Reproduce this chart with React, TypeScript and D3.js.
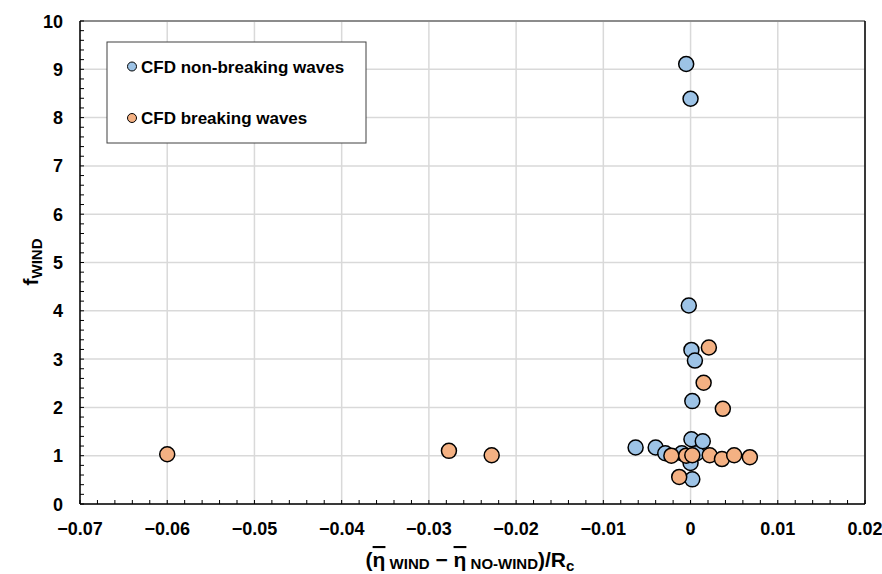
import React from "react";
import * as d3 from "d3";

// Wind factor vs. normalised mean water level change
const nonBreakingX = [-0.0005, 0.0, -0.0002, 0.0001, 0.0005, 0.0002, -0.0063, -0.004, -0.0029, -0.001, 0.0007, 0.0001, 0.0014, 0.0, 0.0002];
const nonBreakingY = [9.11, 8.39, 4.11, 3.19, 2.97, 2.13, 1.17, 1.17, 1.05, 1.05, 1.05, 1.34, 1.3, 0.85, 0.51];

const breakingX = [-0.06, -0.0277, -0.0228, 0.0021, 0.0015, 0.0037, -0.0022, -0.0013, -0.0005, 0.0002, 0.0022, 0.0036, 0.005, 0.0068];
const breakingY = [1.03, 1.1, 1.01, 3.24, 2.51, 1.97, 1.0, 0.56, 1.0, 1.01, 1.01, 0.93, 1.01, 0.97];

const xTicks = [-0.07, -0.06, -0.05, -0.04, -0.03, -0.02, -0.01, 0, 0.01, 0.02];
const yTicks = [0, 1, 2, 3, 4, 5, 6, 7, 8, 9, 10];

const seriesNames = ["CFD non-breaking waves", "CFD breaking waves"];
const colors = ["#9dc3e6", "#f4b183"];

const W = 882;
const H = 574;
const left = 80;
const right = 865;
const top = 21;
const bottom = 504;

const font = "'Liberation Sans', Arial, sans-serif";

const fmt = (v: number) => {
  if (v === 0) return "0";
  const s = Math.abs(v).toFixed(2);
  return v < 0 ? "\u2212" + s : s;
};

export default function App() {
  const x = d3.scaleLinear().domain([-0.07, 0.02]).range([left, right]);
  const y = d3.scaleLinear().domain([0, 10]).range([bottom, top]);

  const xMinor = d3.range(0, 46).map((i) => -0.07 + i * 0.002);
  const yMinor = d3.range(0, 51).map((i) => i * 0.2);

  const series = [
    { xs: nonBreakingX, ys: nonBreakingY, color: colors[0] },
    { xs: breakingX, ys: breakingY, color: colors[1] },
  ];

  const over = { textDecoration: "overline" };

  return (
    <svg
      width={W}
      height={H}
      style={{ position: "absolute", left: 0, top: 0, background: "#fff" }}
      fontFamily={font}
      fontWeight="bold"
    >
      {/* grid */}
      {xTicks.map((t) => (
        <line key={"gx" + t} x1={x(t)} x2={x(t)} y1={top} y2={bottom} stroke="#d9d9d9" strokeWidth={1.5} />
      ))}
      {yTicks.map((t) => (
        <line key={"gy" + t} x1={left} x2={right} y1={y(t)} y2={y(t)} stroke={t === 10 ? "#8c8c8c" : "#d9d9d9"} strokeWidth={t === 10 ? 2 : 1.5} />
      ))}

      {/* minor ticks, inside */}
      {xMinor.map((t, i) => (
        <line key={"mx" + i} x1={x(t)} x2={x(t)} y1={bottom} y2={bottom - 4} stroke="#000" strokeWidth={1} />
      ))}
      {yMinor.map((t, i) => (
        <line key={"my" + i} x1={left} x2={left + 4} y1={y(t)} y2={y(t)} stroke="#000" strokeWidth={1} />
      ))}

      {/* axes frame */}
      <line x1={left} x2={left} y1={top} y2={bottom} stroke="#000" strokeWidth={1.5} />
      <line x1={right} x2={right} y1={top} y2={bottom} stroke="#000" strokeWidth={1.5} />
      <line x1={left} x2={right} y1={bottom} y2={bottom} stroke="#000" strokeWidth={1.5} />

      {/* tick labels */}
      {xTicks.map((t) => (
        <text key={"lx" + t} x={x(t)} y={535} textAnchor="middle" fontSize={18}>
          {fmt(t)}
        </text>
      ))}
      {yTicks.map((t) => (
        <text key={"ly" + t} x={63} y={y(t) + 6.5} textAnchor="end" fontSize={18}>
          {t}
        </text>
      ))}

      {/* points */}
      {series.map((s, si) =>
        s.xs.map((xv, i) => (
          <circle
            key={"p" + si + "-" + i}
            cx={x(xv)}
            cy={y(s.ys[i])}
            r={7.5}
            fill={s.color}
            stroke="#000"
            strokeWidth={1.5}
          />
        ))
      )}

      {/* legend */}
      <rect x={107} y={42} width={259} height={101} fill="#fff" stroke="#404040" strokeWidth={1} />
      {seriesNames.map((n, i) => (
        <g key={"lg" + i}>
          <circle cx={132} cy={i === 0 ? 66.5 : 118} r={4.5} fill={colors[i]} stroke="#000" strokeWidth={1} />
          <text x={141} y={(i === 0 ? 66.5 : 118) + 6} fontSize={17}>
            {n}
          </text>
        </g>
      ))}

      {/* y-axis title */}
      <text transform="translate(38,262) rotate(-90)" textAnchor="middle" fontSize={21}>
        f<tspan fontSize={15} dy={4}>WIND</tspan>
      </text>

      {/* x-axis title */}
      <text x={470} y={567} textAnchor="middle" fontSize={21}>
        (<tspan style={over}>η</tspan>
        <tspan fontSize={15} dy={2}> WIND</tspan>
        <tspan dy={-2}> − </tspan>
        <tspan style={over}>η</tspan>
        <tspan fontSize={15} dy={2}> NO-WIND</tspan>
        <tspan dy={-2}>)/R</tspan>
        <tspan fontSize={15} dy={4}>c</tspan>
      </text>
    </svg>
  );
}
